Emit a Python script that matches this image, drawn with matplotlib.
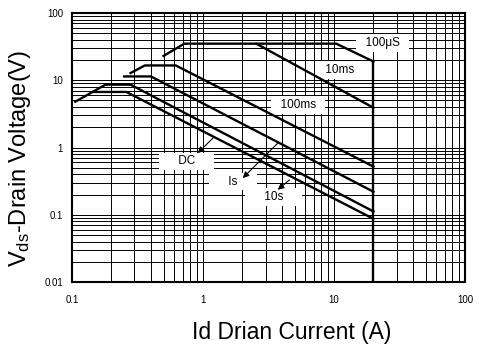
import matplotlib
matplotlib.use("Agg")
import matplotlib.pyplot as plt

plt.rcParams['font.family'] = ['Liberation Sans', 'DejaVu Sans']

# SOA curves (Id in A, Vds in V)
i_100us = [0.5, 0.72, 10.4, 20]
v_100us = [23, 35, 35, 19]
i_10ms = [2.55, 20]
v_10ms = [35, 3.9]
i_100ms = [0.28, 0.36, 0.62, 20]
v_100ms = [12.8, 16.6, 16.6, 0.52]
i_1s = [0.25, 0.40, 20]
v_1s = [11.4, 11.4, 0.22]
i_10s = [0.106, 0.18, 0.28, 20]
v_10s = [4.8, 8.6, 8.6, 0.112]
i_dc = [0.144, 0.26, 20]
v_dc = [6.7, 6.7, 0.087]
i_limit = [20, 20]
v_limit = [19, 0.01]

x_ticks = [0.1, 1, 10, 100]
x_labels = ['0.1', '1', '10', '100']
y_ticks = [0.01, 0.1, 1, 10, 100]
y_labels = ['0.01', '0.1', '1', '10', '100']

fig = plt.figure(figsize=(4.79, 3.45), dpi=100)
ax = fig.add_axes([0.1503, 0.1826, 0.8205, 0.7797])
ax.set_xscale('log')
ax.set_yscale('log')
ax.set_xlim(0.1, 100)
ax.set_ylim(0.01, 100)

ax.grid(True, which='both', color='black', lw=0.7, zorder=1)
ax.set_axisbelow(True)

for xs, ys in [(i_100us, v_100us), (i_10ms, v_10ms), (i_100ms, v_100ms),
               (i_1s, v_1s), (i_10s, v_10s), (i_dc, v_dc), (i_limit, v_limit)]:
    ax.plot(xs, ys, color='black', lw=1.7, zorder=5)

box = dict(boxstyle='square,pad=0.25', fc='white', ec='none')
labels = [
    ('  100\u03bcS  ', 23.6, 35.8),
    (' 10ms ', 11.0, 14.3),
    ('  100ms  ', 5.3, 4.32),
    ('     DC     ', 0.745, 0.62),
    ('     Is     ', 1.69, 0.312),
    ('     10s     ', 3.45, 0.183),
]
for txt, x, y in labels:
    ax.text(x, y, txt, fontsize=8.5, ha='center', va='center', bbox=box, zorder=3)

arrows = [
    ((0.912, 0.826), (1.19, 1.38)),
    ((2.01, 0.351), (3.72, 1.16)),
    ((3.72, 0.235), (4.57, 0.330)),
]
for head, tail in arrows:
    ax.annotate('', xy=head, xytext=tail,
                arrowprops=dict(arrowstyle='-|>', color='black', lw=0.8,
                                mutation_scale=9, shrinkA=0, shrinkB=0),
                zorder=6)

ax.set_xticks(x_ticks)
ax.set_xticklabels(x_labels)
ax.set_yticks(y_ticks)
ax.set_yticklabels(y_labels)
ax.minorticks_on()
ax.tick_params(which='both', length=0, labelsize=7)
ax.tick_params(axis='x', pad=9)
ax.tick_params(axis='y', pad=6.5)
for s in ax.spines.values():
    s.set_linewidth(1.5)
    s.set_zorder(7)

fig.text(292 / 479, 1 - 332 / 345, 'Id Drian Current (A)', fontsize=16.5,
         ha='center', va='center')
fig.text(20 / 479, 1 - 158 / 345, r'V$\mathregular{_{ds}}$-Drain Voltage(V)',
         fontsize=17, rotation=90, ha='center', va='center')

fig.savefig('out.png', dpi=100)
